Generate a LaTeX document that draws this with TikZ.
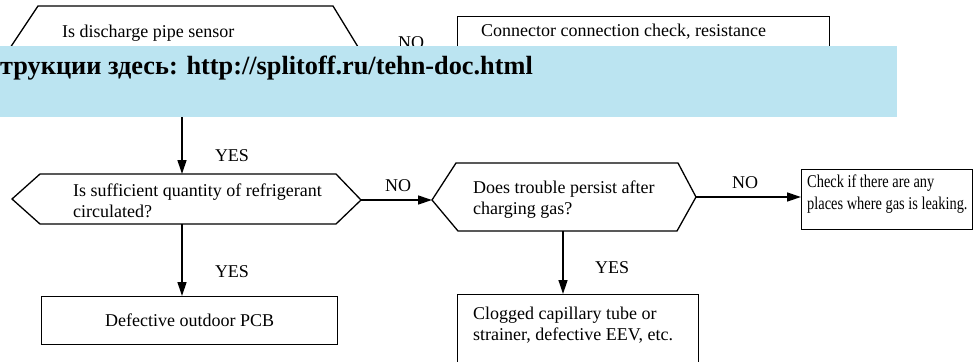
\documentclass[tikz,border=0pt]{standalone}
\usepackage{fontspec}
\setmainfont{Liberation Serif}
\newfontfamily\condfont[FakeStretch=0.8]{Liberation Serif}
\usetikzlibrary{arrows.meta}
\definecolor{bannerblue}{RGB}{187,228,241}
\tikzset{
  shapeline/.style={draw=black, line width=1.3pt, line join=miter},
  boxnode/.style={draw=black, line width=1.3pt, rectangle, inner sep=0pt, anchor=north west},
  txt/.style={font=\rmfamily\fontsize{18}{21}\selectfont, inner sep=0pt, align=left, anchor=west},
  lbl/.style={font=\rmfamily\fontsize{18}{21}\selectfont, inner sep=0pt},
  arr/.style={draw=black, line width=1.3pt, -{Triangle[length=14pt,width=9pt]}},
}
\begin{document}
\begin{tikzpicture}[x=1pt,y=-1pt]
\useasboundingbox (0,0) rectangle (973,361);
\clip (0,0) rectangle (973,361);
% --- hexagon 1 (top) ---
\coordinate (h1L) at (2,60);
\coordinate (h1TL) at (38,6);
\coordinate (h1TR) at (333,6);
\coordinate (h1R) at (366,60);
\coordinate (h1BR) at (333,114);
\coordinate (h1BL) at (38,114);
\coordinate (h1B) at (182,114);
\draw[shapeline] (h1L) -- (h1TL) -- (h1TR) -- (h1R) -- (h1BR) -- (h1BL) -- cycle;
\node[txt] (t1) at (62,33) {Is discharge pipe sensor};
% --- top right box ---
\node[boxnode, minimum width=372pt, minimum height=84pt] (conn) at (457,16) {};
\node[txt] (t2) at (481,32) {Connector connection check, resistance};
\draw[arr] (h1R) -- (h1R -| conn.west);
\node[lbl] (no1) at (411,43) {NO};
% --- hexagon 2 ---
\coordinate (h2L) at (12,199);
\coordinate (h2TL) at (40,174);
\coordinate (h2TR) at (336,174);
\coordinate (h2R) at (361,200);
\coordinate (h2BR) at (336,224);
\coordinate (h2BL) at (40,224);
\coordinate (h2T) at (182,174);
\coordinate (h2B) at (182,224);
\draw[shapeline] (h2L) -- (h2TL) -- (h2TR) -- (h2R) -- (h2BR) -- (h2BL) -- cycle;
\node[txt] (t3) at (73,201) {Is sufficient quantity of refrigerant\\circulated?};
% --- hexagon 3 ---
\coordinate (h3L) at (432,200);
\coordinate (h3TL) at (456,163);
\coordinate (h3TR) at (678,163);
\coordinate (h3R) at (696,197);
\coordinate (h3BR) at (677,231);
\coordinate (h3BL) at (458,231);
\coordinate (h3B) at (563,231);
\draw[shapeline] (h3L) -- (h3TL) -- (h3TR) -- (h3R) -- (h3BR) -- (h3BL) -- cycle;
\node[txt] (t4) at (473,199.5) {Does trouble persist after\\charging gas?};
% --- check box ---
\node[boxnode, minimum width=171pt, minimum height=60pt] (chk) at (801,169) {};
\node[txt, font=\condfont\fontsize{18}{22}\selectfont] (t5) at (807,194) {Check if there are any\\places where gas is leaking.};
% --- PCB box ---
\node[boxnode, minimum width=296pt, minimum height=48pt] (pcb) at (41,296) {};
\node[lbl] (t6) at (pcb.center) {Defective outdoor PCB};
% --- clogged box ---
\node[boxnode, minimum width=241pt, minimum height=72pt] (clog) at (457,294) {};
\node[txt] (t7) at (473,325) {Clogged capillary tube or\\strainer, defective EEV, etc.};
% --- connectors ---
\draw[arr] (h1B) -- (h2T);
\draw[arr] (h2R) -- (h3L);
\draw[arr] (h3R) -- (h3R -| chk.west);
\draw[arr] (h2B) -- (h2B |- pcb.north);
\draw[arr] (h3B) -- (h3B |- clog.north);
\node[lbl] (yes1) at (232,156) {YES};
\node[lbl] (no2) at (398,186) {NO};
\node[lbl] (no3) at (745,183) {NO};
\node[lbl] (yes2) at (232,272) {YES};
\node[lbl] (yes3) at (612,268) {YES};
% --- banner overlay ---
\node[fill=bannerblue, draw=none, inner sep=0pt, minimum width=897pt, minimum height=71pt, anchor=north west] (banner) at (0,46) {};
\node[font=\rmfamily\fontsize{26.3}{30}\selectfont\bfseries, inner sep=0pt, anchor=base west] (bantxt) at (0,74.5) {трукции здесь: http://splitoff.ru/tehn-doc.html};
\end{tikzpicture}
\end{document}
